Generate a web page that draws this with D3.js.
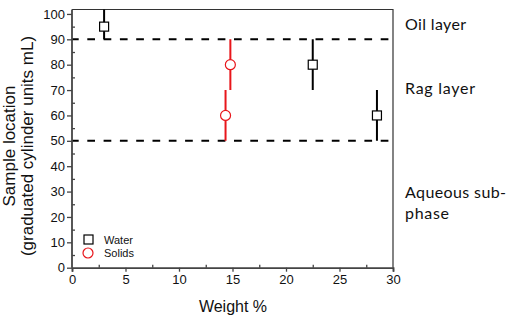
<!DOCTYPE html>
<html><head><meta charset="utf-8">
<script src="https://cdn.jsdelivr.net/npm/d3@7"></script>
<style>body{margin:0;background:#fff}svg{display:block}</style>
</head><body>
<script>
// Data
const waterX = [3.0, 22.5, 28.5];
const waterY = [95, 80, 60];
const waterLo = [90, 70, 50];
const waterHi = [105, 90, 70];
const solidsX = [14.8, 14.35];
const solidsY = [80, 60];
const solidsLo = [70, 50];
const solidsHi = [90, 70];
const boundaries = [90, 50];
const xTicks = [0, 5, 10, 15, 20, 25, 30];
const yTicks = [0, 10, 20, 30, 40, 50, 60, 70, 80, 90, 100];
const layerLabels = [["Oil layer"], ["Rag layer"], ["Aqueous sub-", "phase"]];
const layerWidths = [[61], [70], [101, 44]];
const layerY = [24, 88, 192];

const W = 508, H = 324;
const m = {l: 72, r: 393, t: 9.5, b: 267.7};
const svg = d3.select("body").append("svg").attr("width", W).attr("height", H);
const x = d3.scaleLinear().domain([0, 30]).range([m.l, m.r]);
const y = d3.scaleLinear().domain([0, 101.75]).range([m.b, m.t]);

svg.append("defs").append("clipPath").attr("id", "clip")
  .append("rect").attr("x", m.l).attr("y", m.t).attr("width", m.r - m.l).attr("height", m.b - m.t);

// box top/right
svg.append("path").attr("d", `M${m.l},${m.t}H${m.r}V${m.b}`)
  .attr("fill", "none").attr("stroke", "#333").attr("stroke-width", 1.2);

// dashed boundaries
svg.append("g").selectAll("line").data(boundaries).join("line")
  .attr("x1", x(0)).attr("x2", x(30)).attr("y1", d => y(d)).attr("y2", d => y(d))
  .attr("stroke", "#000").attr("stroke-width", 2).attr("stroke-dasharray", "7.7,8.6")
  .attr("stroke-dashoffset", 1);

const font = "Liberation Sans, Arial, sans-serif";
// axes
const xAxis = svg.append("g").attr("transform", `translate(0,${m.b})`)
  .call(d3.axisBottom(x).tickValues(xTicks).tickSize(4).tickPadding(3));
const xMinor = svg.append("g").attr("transform", `translate(0,${m.b})`)
  .call(d3.axisBottom(x).tickValues(d3.range(2.5, 30, 5)).tickSize(-3).tickFormat(""));
const yAxis = svg.append("g").attr("transform", `translate(${m.l},0)`)
  .call(d3.axisLeft(y).tickValues(yTicks).tickSize(5).tickPadding(2));
const yMinor = svg.append("g").attr("transform", `translate(${m.l},0)`)
  .call(d3.axisLeft(y).tickValues(d3.range(5, 100, 10)).tickSize(-3).tickFormat(""));
[xAxis, yAxis, xMinor, yMinor].forEach(g => {
  g.select(".domain").attr("stroke", "#444").attr("stroke-width", 1.8);
  g.selectAll(".tick line").attr("stroke", "#444").attr("stroke-width", 1.3);
  g.selectAll("text").attr("font-family", font).attr("font-size", 13).attr("fill", "#111");
});
xMinor.select(".domain").remove();
yMinor.select(".domain").remove();
yAxis.select(".domain").attr("d", `M0,${m.b}V${m.t}`);

// axis titles
svg.append("text").attr("x", 233).attr("y", 311.5).attr("text-anchor", "middle")
  .attr("font-family", font).attr("font-size", 16).attr("fill", "#111").text("Weight %");
const yt = svg.append("text").attr("transform", `translate(15,146) rotate(-90)`)
  .attr("text-anchor", "middle").attr("font-family", font).attr("font-size", 17).attr("fill", "#111");
yt.append("tspan").attr("x", 0).attr("dy", 0).text("Sample location");
yt.append("tspan").attr("x", 0).attr("dy", 18).text("(graduated cylinder units mL)");

const plot = svg.append("g").attr("clip-path", "url(#clip)");
// water
plot.selectAll(".we").data(waterX).join("line")
  .attr("x1", d => x(d)).attr("x2", d => x(d))
  .attr("y1", (d, i) => y(waterLo[i])).attr("y2", (d, i) => y(waterHi[i]))
  .attr("stroke", "#000").attr("stroke-width", 2);
plot.selectAll(".wm").data(waterX).join("rect")
  .attr("x", d => x(d) - 4.5).attr("y", (d, i) => y(waterY[i]) - 4.5)
  .attr("width", 9).attr("height", 9).attr("fill", "#fff").attr("stroke", "#000").attr("stroke-width", 1.2);
// solids
plot.selectAll(".se").data(solidsX).join("line")
  .attr("x1", d => x(d)).attr("x2", d => x(d))
  .attr("y1", (d, i) => y(solidsLo[i])).attr("y2", (d, i) => y(solidsHi[i]))
  .attr("stroke", "#e8161b").attr("stroke-width", 2);
plot.selectAll(".sm").data(solidsX).join("circle")
  .attr("cx", d => x(d)).attr("cy", (d, i) => y(solidsY[i])).attr("r", 5)
  .attr("fill", "#fff").attr("stroke", "#e8161b").attr("stroke-width", 1.2);

// legend
const lg = svg.append("g");
lg.append("rect").attr("x", 84).attr("y", 235).attr("width", 9).attr("height", 9)
  .attr("fill", "#fff").attr("stroke", "#000").attr("stroke-width", 1.2);
lg.append("circle").attr("cx", 88).attr("cy", 253).attr("r", 5)
  .attr("fill", "#fff").attr("stroke", "#e8161b").attr("stroke-width", 1.2);
lg.append("text").attr("x", 104).attr("y", 243.5).attr("font-family", font).attr("font-size", 11).attr("fill", "#111").text("Water");
lg.append("text").attr("x", 104).attr("y", 257).attr("font-family", font).attr("font-size", 11).attr("fill", "#111").text("Solids");

// layer labels
const lf = "Lato, 'Open Sans', sans-serif";
layerLabels.forEach((lines, i) => {
  lines.forEach((s, j) => svg.append("text").attr("x", 405).attr("y", layerY[i] + 5.5 + j * 21)
    .attr("font-family", lf).attr("font-size", 16).attr("fill", "#111")
    .attr("textLength", layerWidths[i][j]).attr("lengthAdjust", "spacing").text(s));
});
</script>
</body></html>
